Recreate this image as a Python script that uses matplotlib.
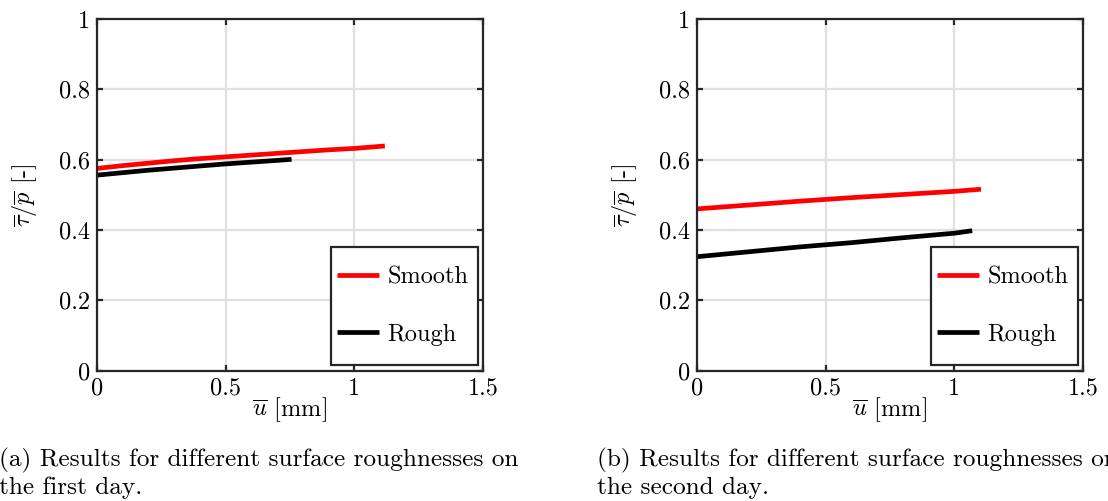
import matplotlib
matplotlib.use("Agg")
import matplotlib.pyplot as plt
from matplotlib.patches import Rectangle

plt.rcParams["font.family"] = "serif"
plt.rcParams["font.serif"] = ["cmr10"]
plt.rcParams["mathtext.fontset"] = "cm"
plt.rcParams["axes.unicode_minus"] = False
plt.rcParams["axes.formatter.use_mathtext"] = True

# Day 1 measurements
day1_smooth_u = [0.0, 0.1, 0.2, 0.3, 0.4, 0.5, 0.6, 0.7, 0.8, 0.9, 1.0, 1.118]
day1_smooth_r = [0.575, 0.583, 0.590, 0.597, 0.603, 0.608, 0.613, 0.618, 0.623, 0.628, 0.632, 0.639]
day1_rough_u = [0.0, 0.1, 0.2, 0.3, 0.4, 0.5, 0.6, 0.7, 0.756]
day1_rough_r = [0.556, 0.563, 0.570, 0.576, 0.582, 0.588, 0.593, 0.598, 0.601]

# Day 2 measurements
day2_smooth_u = [0.0, 0.2, 0.4, 0.6, 0.8, 1.0, 1.103]
day2_smooth_r = [0.460, 0.471, 0.482, 0.492, 0.501, 0.510, 0.516]
day2_rough_u = [0.0, 0.2, 0.4, 0.6, 0.8, 1.0, 1.069]
day2_rough_r = [0.324, 0.338, 0.352, 0.364, 0.378, 0.391, 0.398]

x_ticks = [0, 0.5, 1, 1.5]
x_tick_labels = ["0", "0.5", "1", "1.5"]
y_ticks = [0, 0.2, 0.4, 0.6, 0.8, 1]
y_tick_labels = ["0", "0.2", "0.4", "0.6", "0.8", "1"]

captions = [
    ["(a) Results for different surface roughnesses on", "the first day."],
    ["(b) Results for different surface roughnesses on", "the second day."],
]

W, H = 1108, 501
fig = plt.figure(figsize=(W / 100, H / 100), dpi=100)

axis_color = "#262626"
fs = 17.5

panels = [
    (96.7, day1_smooth_u, day1_smooth_r, day1_rough_u, day1_rough_r),
    (696.7, day2_smooth_u, day2_smooth_r, day2_rough_u, day2_rough_r),
]

# legend box in axes fraction: x0, y0, width, height
box = (0.605, 0.016, 0.382, 0.335)

for (left_px, su, sr, ru, rr) in panels:
    ax = fig.add_axes([left_px / W, (H - 370.7) / H, 386.6 / W, 351.7 / H])
    ax.plot(su, sr, color="#ff0000", lw=3.4, label="Smooth", solid_capstyle="butt")
    ax.plot(ru, rr, color="black", lw=3.4, label="Rough", solid_capstyle="butt")
    ax.set_xlim(0, 1.5)
    ax.set_ylim(0, 1)
    ax.set_xticks(x_ticks)
    ax.set_xticklabels(x_tick_labels)
    ax.set_yticks(y_ticks)
    ax.set_yticklabels(y_tick_labels)
    ax.grid(True, color="#e0e0e0", lw=1.6)
    ax.set_axisbelow(True)
    for s in ax.spines.values():
        s.set_linewidth(1.6)
        s.set_color(axis_color)
    ax.tick_params(direction="in", top=True, right=True, length=4, width=1.6,
                   color=axis_color, labelsize=fs, labelcolor="black", pad=5)
    ax.set_xlabel(r"$\overline{u}$ [mm]", fontsize=fs, labelpad=-3)
    ax.set_ylabel(r"$\overline{\tau}/\overline{p}$ [-]", fontsize=fs, labelpad=14)

    ax.add_patch(Rectangle((box[0], box[1]), box[2], box[3], transform=ax.transAxes,
                           facecolor="white", edgecolor=axis_color, lw=1.6,
                           zorder=4.5, clip_on=False))
    ax.legend(loc="center left", bbox_to_anchor=(box[0] + 0.003, box[1] + box[3] / 2),
              fontsize=fs, frameon=False, borderpad=0.0, labelspacing=1.42,
              handlelength=1.75, handletextpad=0.35, borderaxespad=0.2)

caption_x = [-0.001, 597 / W]
for cx, lines in zip(caption_x, captions):
    fig.text(cx, 1 - 466 / H, lines[0], fontsize=18.2, va="baseline", ha="left")
    fig.text(cx, 1 - 494 / H, lines[1], fontsize=18.2, va="baseline", ha="left")

fig.savefig("out.png", dpi=100)
